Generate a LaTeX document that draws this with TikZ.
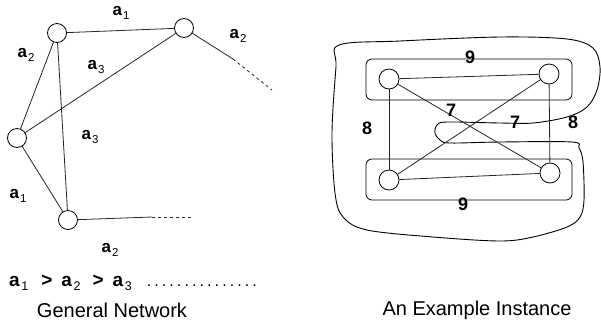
\documentclass[tikz,border=0pt]{standalone}
\usepackage{fontspec}
\setmainfont{Liberation Sans}
\newcommand\albl[1]{\textbf{a}\kern1pt\raisebox{-3.5pt}{\fontsize{11.5}{11.5}\selectfont #1}}
\newcommand\blbl[1]{\textbf{a}\kern1.5pt\raisebox{-4pt}{\fontsize{12.5}{12.5}\selectfont #1}}
\newcommand\dotty{{\fontsize{16}{16}\selectfont .}\kern3.1pt}
\begin{document}
\begin{tikzpicture}[x=1pt,y=-1pt,
  vtx/.style={circle,draw,minimum size=19pt,inner sep=0pt,line width=0.8pt},
  bvtx/.style={vtx,minimum size=20pt},
  edge/.style={line width=0.8pt,draw=black!85},
  lbl/.style={font=\fontsize{17}{17}\selectfont,inner sep=0pt},
  olbl/.style={font=\fontsize{19}{19}\selectfont,inner sep=0pt},
  num/.style={font=\fontsize{18}{18}\selectfont\bfseries,inner sep=0pt},
  captext/.style={font=\fontsize{20}{20}\selectfont,inner sep=0pt},
  group/.style={line width=0.8pt,rounded corners=6pt},
  blob/.style={line width=0.9pt}]
\useasboundingbox (0,0) rectangle (601,325);
% ---------- General network ----------
\node[vtx] (A) at (57,33) {};
\node[vtx] (B) at (184,28) {};
\node[vtx] (C) at (17,138) {};
\node[vtx] (D) at (68,220) {};
\coordinate (Be) at (233,59);
\coordinate (Bd) at (272,90);
\coordinate (De) at (152,217);
\coordinate (Dd) at (193,217);
\draw[edge] (A) -- (B);
\draw[edge] (A) -- (C);
\draw[edge] (A) -- (D);
\draw[edge] (B) -- (C);
\draw[edge] (C) -- (D);
\draw[edge] (B) -- (Be);
\draw[edge,dashed] (Be) -- (Bd);
\draw[edge] (D) -- (De);
\draw[edge,dashed] (De) -- (Dd);
\node[lbl] (l1) at (121,13) {\albl{1}};
\node[lbl] (l2) at (238,36) {\albl{2}};
\node[lbl] (l3) at (26,55) {\albl{2}};
\node[lbl] (l4) at (96,67) {\albl{3}};
\node[lbl] (l5) at (90,137) {\albl{3}};
\node[lbl] (l6) at (18,196) {\albl{1}};
\node[lbl] (l7) at (110,250) {\albl{2}};
\node[olbl,anchor=west] (order) at (9,283) {\blbl{1}\hspace{13pt}\textbf{>}\hspace{9pt}\blbl{2}\hspace{12pt}\textbf{>}\hspace{9pt}\blbl{3}\hspace{15pt}\dotty\dotty\dotty\dotty\dotty\dotty\dotty\dotty\dotty\dotty\dotty\dotty\dotty\dotty\dotty};
\node[captext] (c1) at (112,310) {General Network};
% ---------- Example instance ----------
\draw[blob] plot[smooth cycle,tension=0.55] coordinates {
 (339,45) (400,41) (500,37) (567,39) (593,48) (600,67) (597,90) (587,107)
 (567,117) (533,123) (500,123) (447,122) (437,125) (435,133) (440,140)
 (450,143) (500,142) (572,142) (579,148) (583,162) (584,200) (580,217)
 (567,227) (533,237) (500,241) (433,237) (367,230) (343,217) (335,193)
 (332,133) (336,67)};
\draw[group] (366,59) rectangle (572,100);
\draw[group] (366,159) rectangle (572,200);
\node[bvtx] (P) at (389,79) {};
\node[bvtx] (Q) at (549,74) {};
\node[bvtx] (R) at (389,180) {};
\node[bvtx] (S) at (550,173) {};
\draw[edge] (P) -- (Q);
\draw[edge] (P) -- (R);
\draw[edge] (P) -- (S);
\draw[edge] (Q) -- (R);
\draw[edge] (Q) -- (S);
\draw[edge] (R) -- (S);
\node[num] (n1) at (470,57) {9};
\node[num] (n2) at (463,204) {9};
\node[num] (n3) at (367,128) {8};
\node[num] (n4) at (573,122) {8};
\node[num] (n5) at (451,110) {7};
\node[num] (n6) at (515,122) {7};
\node[captext] (c2) at (477,310) {An Example Instance};
\end{tikzpicture}
\end{document}
